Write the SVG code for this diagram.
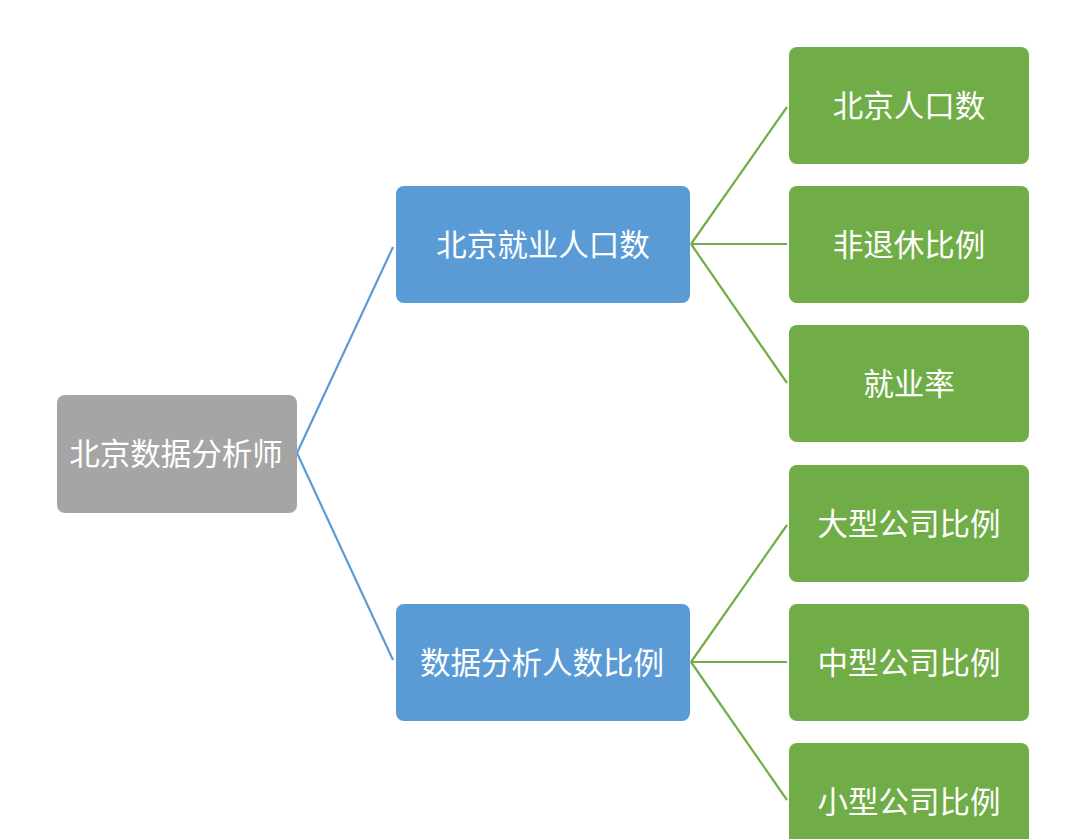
<svg xmlns="http://www.w3.org/2000/svg" width="1080" height="839" viewBox="0 0 1080 839">
<style>
.t{font-family:"Liberation Sans","Noto Sans CJK SC",sans-serif;font-size:30.5px;fill:#ffffff;text-anchor:middle;dominant-baseline:central}
.root{fill:#A5A5A5}
.mid{fill:#5B9BD5}
.leaf{fill:#70AD47}
.lb{stroke:#5B9BD5;stroke-width:2.2;fill:none}
.lg{stroke:#70AD47;stroke-width:2.2;fill:none}
</style>
<rect width="1080" height="839" fill="#ffffff"/>
<g id="connectors">
<path class="lb" d="M297,453 L393,247"/>
<path class="lb" d="M297,453 L393,660"/>
<path class="lg" d="M691,244 L787,107"/>
<path class="lg" d="M691,244 L787,244"/>
<path class="lg" d="M691,244 L787,383"/>
<path class="lg" d="M691,662 L787,525"/>
<path class="lg" d="M691,662 L787,662"/>
<path class="lg" d="M691,662 L787,800"/>
</g>
<g id="n-root"><rect class="root" x="57" y="395" width="240" height="118" rx="8"/><text class="t" x="176" y="454">北京数据分析师</text></g>
<g id="n-emp"><rect class="mid" x="396" y="186" width="294" height="117" rx="8"/><text class="t" x="543" y="245">北京就业人口数</text></g>
<g id="n-ratio"><rect class="mid" x="396" y="604" width="294" height="117" rx="8"/><text class="t" x="542" y="663">数据分析人数比例</text></g>
<g id="n-l1"><rect class="leaf" x="789" y="47" width="240" height="117" rx="8"/><text class="t" x="909" y="106">北京人口数</text></g>
<g id="n-l2"><rect class="leaf" x="789" y="186" width="240" height="117" rx="8"/><text class="t" x="909" y="245">非退休比例</text></g>
<g id="n-l3"><rect class="leaf" x="789" y="325" width="240" height="117" rx="8"/><text class="t" x="909" y="384">就业率</text></g>
<g id="n-l4"><rect class="leaf" x="789" y="465" width="240" height="117" rx="8"/><text class="t" x="909" y="524">大型公司比例</text></g>
<g id="n-l5"><rect class="leaf" x="789" y="604" width="240" height="117" rx="8"/><text class="t" x="909" y="663">中型公司比例</text></g>
<g id="n-l6"><rect class="leaf" x="789" y="743" width="240" height="117" rx="8"/><text class="t" x="909" y="802">小型公司比例</text></g>
</svg>
